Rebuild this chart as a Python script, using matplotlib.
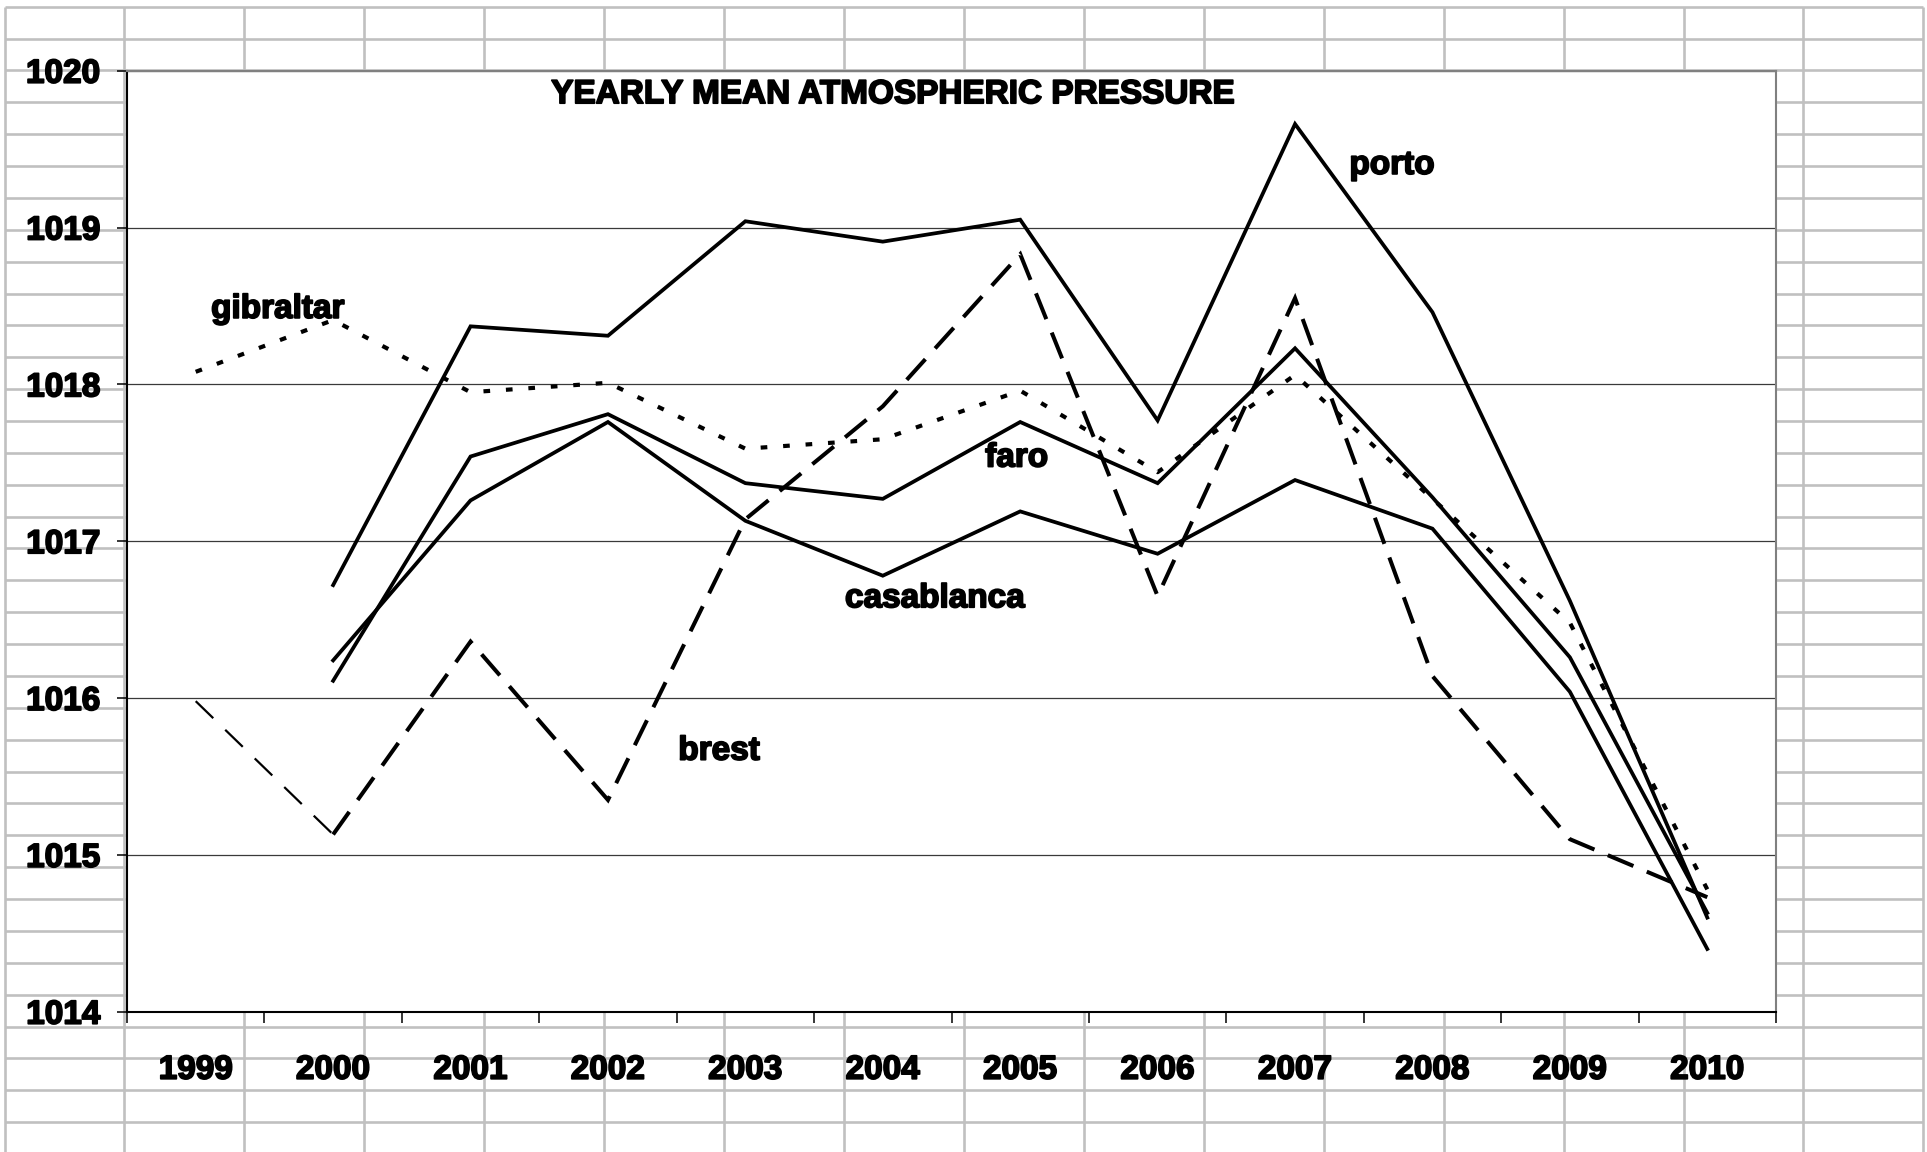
import matplotlib
matplotlib.use("Agg")
import matplotlib.pyplot as plt
import matplotlib.patheffects as pe
import numpy as np

# ---------------- data ----------------
years = ['1999', '2000', '2001', '2002', '2003', '2004',
         '2005', '2006', '2007', '2008', '2009', '2010']
porto = [np.nan, 1016.72, 1018.37, 1018.31, 1019.04, 1018.91,
         1019.05, 1017.77, 1019.66, 1018.46, 1016.62, 1014.60]
faro = [np.nan, 1016.11, 1017.54, 1017.81, 1017.37, 1017.27,
        1017.76, 1017.37, 1018.23, 1017.28, 1016.26, 1014.63]
casablanca = [np.nan, 1016.24, 1017.26, 1017.76, 1017.13, 1016.78,
              1017.19, 1016.92, 1017.39, 1017.08, 1016.04, 1014.40]
gibraltar = [1018.08, 1018.41, 1017.95, 1018.01, 1017.59, 1017.65,
             1017.96, 1017.44, 1018.06, 1017.27, 1016.48, 1014.78]
brest = [1015.98, 1015.13, 1016.36, 1015.35, 1017.14, 1017.86,
         1018.83, 1016.65, 1018.55, 1016.14, 1015.10, 1014.73]
y_ticks = [1014, 1015, 1016, 1017, 1018, 1019, 1020]
title = 'YEARLY MEAN ATMOSPHERIC PRESSURE'

FONT = 'Liberation Sans'
W, H = 1927, 1152
fig = plt.figure(figsize=(W / 100, H / 100), dpi=100)
fig.patch.set_facecolor('white')

heavy = [pe.withStroke(linewidth=1.3, foreground='black')]

# ---------- spreadsheet cell grid in the background ----------
bg = fig.add_axes([0, 0, 1, 1], zorder=-10)
bg.set_xlim(0, W)
bg.set_ylim(H, 0)
bg.axis('off')
cols = 4.5 + 119.93 * np.arange(17)
rows = 6.7 + 31.87 * np.arange(36)
bg.vlines(cols, 6.7, H, color='#c0c0c0', lw=1.9)
bg.hlines(rows, 4.5, cols[-1], color='#c0c0c0', lw=1.9)

# ---------- chart plot area ----------
left, right = 127 / W, 1776 / W
bottom, top = 1 - 1011.7 / H, 1 - 70.7 / H
ax = fig.add_axes([left, bottom, right - left, top - bottom], zorder=0)
ax.set_facecolor('white')

x = np.arange(len(years))

solid_kw = dict(color='black', lw=2.7, solid_joinstyle='miter')
ax.plot(x, porto, **solid_kw)
ax.plot(x, faro, **solid_kw)
ax.plot(x, casablanca, **solid_kw)
ax.plot(x, gibraltar, color='black', lw=3.0, dashes=(1.6, 3.8))
# brest: first segment thinner
ax.plot(x[:2], brest[:2], color='black', lw=1.6, dashes=(11, 7.5))
ax.plot(x[1:], brest[1:], color='black', lw=2.9, dashes=(6.9, 3.6),
        dash_joinstyle='miter')

ax.set_xlim(-0.5, len(years) - 0.5)
ax.set_ylim(y_ticks[0], y_ticks[-1])
ax.set_yticks(y_ticks)
ax.set_yticklabels([str(v) for v in y_ticks])
ax.set_xticks(x)
ax.set_xticklabels(years)
ax.set_xticks(np.arange(-0.5, len(years), 1.0), minor=True)

ax.yaxis.grid(True, color='#3a3a3a', lw=0.9)
ax.xaxis.grid(False)

for lab in ax.get_xticklabels() + ax.get_yticklabels():
    lab.set_fontfamily(FONT)
    lab.set_fontweight('bold')
    lab.set_fontsize(24)
    lab.set_path_effects(heavy)

ax.tick_params(axis='y', direction='out', length=7.2, width=1.1, pad=12,
               color='black')
ax.tick_params(axis='x', which='major', length=0, pad=31)
ax.tick_params(axis='x', which='minor', direction='out', length=8, width=1.1,
               color='black')

ax.spines['left'].set_color('black')
ax.spines['left'].set_linewidth(1.5)
ax.spines['bottom'].set_color('black')
ax.spines['bottom'].set_linewidth(1.5)
ax.spines['top'].set_color('#808080')
ax.spines['top'].set_linewidth(1.5)
ax.spines['right'].set_color('#808080')
ax.spines['right'].set_linewidth(1.5)

# ---------- title and series labels ----------
tkw = dict(fontfamily=FONT, fontweight='bold', ha='center', va='baseline',
           color='black', zorder=5, path_effects=heavy)
ax.text(5.075, 1019.793, title, fontsize=24, **tkw)
ax.text(8.706, 1019.342, 'porto', fontsize=24, **tkw)
ax.text(0.599, 1018.424, 'gibraltar', fontsize=24, **tkw)
ax.text(5.975, 1017.476, 'faro', fontsize=24, **tkw)
ax.text(5.381, 1016.579, 'casablanca', fontsize=24, **tkw)
ax.text(3.809, 1015.607, 'brest', fontsize=24, **tkw)

fig.savefig('out.png', dpi=100, facecolor='white')
